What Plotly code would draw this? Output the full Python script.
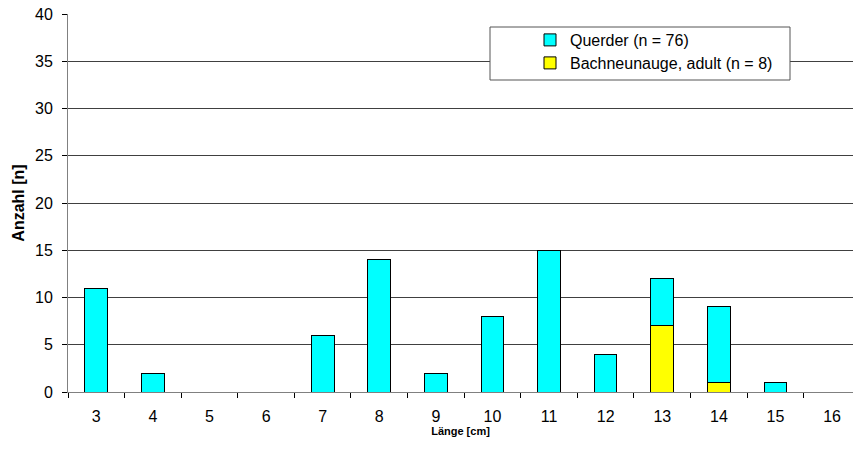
import plotly.graph_objects as go

# Length classes (cm) and counts per class
laenge = ["3", "4", "5", "6", "7", "8", "9", "10", "11", "12", "13", "14", "15", "16"]
querder = [11, 2, 0, 0, 6, 14, 2, 8, 15, 4, 5, 8, 1, 0]
bachneunauge = [0, 0, 0, 0, 0, 0, 0, 0, 0, 0, 7, 1, 0, 0]

FONT = "Liberation Sans, Arial, sans-serif"

fig = go.Figure()
fig.add_trace(go.Bar(
    x=laenge, y=bachneunauge, name="Bachneunauge, adult (n = 8)",
    marker=dict(color="#FFFF00", line=dict(color="#000000", width=1)),
    legend="legend2",
))
fig.add_trace(go.Bar(
    x=laenge, y=querder, name="Querder (n = 76)",
    marker=dict(color="#00FFFF", line=dict(color="#000000", width=1)),
    legend="legend",
))

# plot area in pixels: x 68..853, y 14..392
W, H = 853, 454
L, R, T, B = 68, 0, 14, 62
pw, ph = W - L - R, H - T - B

def px(x):
    return (x - L) / pw

def py(y):
    return (H - B - y) / ph

legend_style = dict(
    xanchor="left", yanchor="middle",
    bgcolor="rgba(0,0,0,0)", borderwidth=0,
    font=dict(family=FONT, size=16, color="#000000"),
)

fig.update_layout(
    width=W, height=H,
    margin=dict(l=L, r=R, t=T, b=B),
    paper_bgcolor="white", plot_bgcolor="white",
    barmode="stack", bargap=0.6,
    font=dict(family=FONT, size=16, color="#000000"),
    showlegend=True,
    legend=dict(x=px(530), y=py(40), **legend_style),
    legend2=dict(x=px(530), y=py(63), **legend_style),
    xaxis=dict(
        type="category", range=[-0.5, 13.37],
        tickson="boundaries", ticks="outside", ticklen=5, tickcolor="#000000",
        showline=True, linecolor="#808080", linewidth=1,
        showgrid=False,
        tickfont=dict(size=16), ticklabelstandoff=10,
        title=dict(text="<b>Länge [cm]</b>", font=dict(size=11), standoff=0),
    ),
    yaxis=dict(
        range=[0, 40], dtick=5, ticks="outside", ticklen=5, tickcolor="#000000",
        showline=True, linecolor="#808080", linewidth=1,
        showgrid=True, gridcolor="#404040", gridwidth=1,
        zeroline=False,
        tickfont=dict(size=16), ticklabelstandoff=6,
        title=dict(text="<b>Anzahl [n]</b>", font=dict(size=16), standoff=6),
    ),
    shapes=[
        dict(type="rect", xref="paper", yref="paper", layer="above",
             x0=px(490), x1=px(790), y0=py(80), y1=py(27),
             fillcolor="white", line=dict(color="#555555", width=1)),
    ],
)

fig.write_html("out.html")
